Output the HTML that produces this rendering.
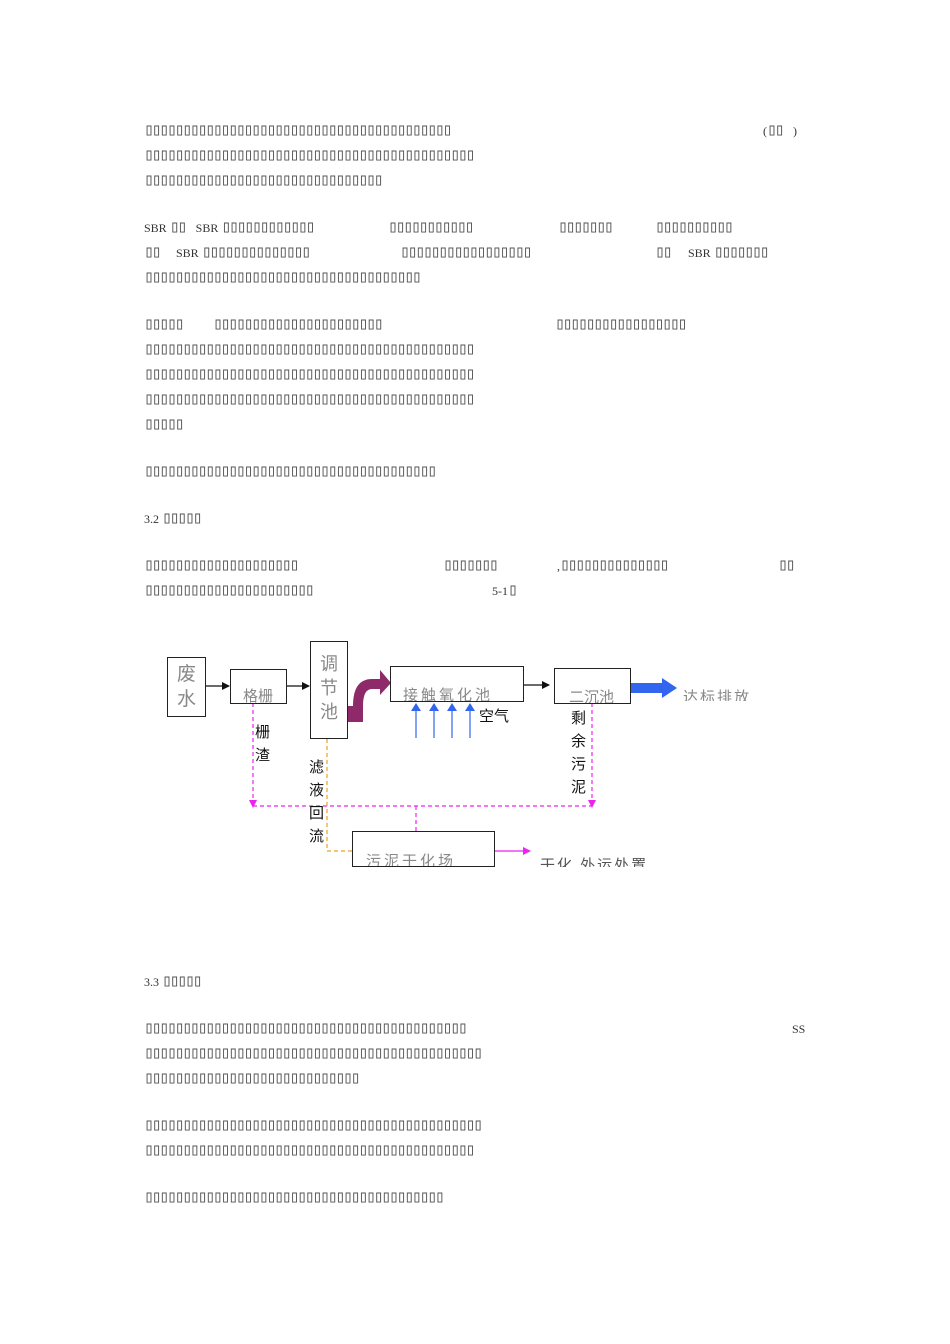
<!DOCTYPE html>
<html><head><meta charset="utf-8"><style>
body{margin:0;width:950px;height:1344px;background:#fff;position:relative;overflow:hidden}
.t{position:absolute;font-family:"DejaVu Sans Mono",monospace;font-size:17px;letter-spacing:-2.58px;color:#555;white-space:pre;line-height:17px}
.t i{font-style:normal;font-family:"Liberation Sans Narrow","Liberation Serif",serif;font-size:12px;letter-spacing:0;color:#333}
.b{position:absolute;border:1px solid #222;background:#fff;overflow:hidden;box-sizing:border-box}
.g{font-family:"Liberation Sans","Noto Sans CJK SC",sans-serif;color:#888;position:absolute;white-space:nowrap}
.k{font-family:"Liberation Sans","Noto Sans CJK SC",sans-serif;color:#111;position:absolute;font-size:15px;line-height:23px;width:16px}
</style></head><body>
<div class="t" style="left:144px;top:122px">▯▯▯▯▯▯▯▯▯▯▯▯▯▯▯▯▯▯▯▯▯▯▯▯▯▯▯▯▯▯▯▯▯▯▯▯▯▯▯▯</div>
<div class="t" style="left:763px;top:122px"><i>(</i>▯▯ <i> )</i></div>
<div class="t" style="left:144px;top:147px">▯▯▯▯▯▯▯▯▯▯▯▯▯▯▯▯▯▯▯▯▯▯▯▯▯▯▯▯▯▯▯▯▯▯▯▯▯▯▯▯▯▯▯</div>
<div class="t" style="left:144px;top:172px">▯▯▯▯▯▯▯▯▯▯▯▯▯▯▯▯▯▯▯▯▯▯▯▯▯▯▯▯▯▯▯</div>
<div class="t" style="left:144px;top:219px"><i>SBR </i>▯▯ <i> SBR </i>▯▯▯▯▯▯▯▯▯▯▯▯</div>
<div class="t" style="left:388px;top:219px">▯▯▯▯▯▯▯▯▯▯▯</div>
<div class="t" style="left:558px;top:219px">▯▯▯▯▯▯▯</div>
<div class="t" style="left:655px;top:219px">▯▯▯▯▯▯▯▯▯▯</div>
<div class="t" style="left:144px;top:244px">▯▯</div>
<div class="t" style="left:176px;top:244px"><i>SBR </i>▯▯▯▯▯▯▯▯▯▯▯▯▯▯</div>
<div class="t" style="left:400px;top:244px">▯▯▯▯▯▯▯▯▯▯▯▯▯▯▯▯▯</div>
<div class="t" style="left:655px;top:244px">▯▯</div>
<div class="t" style="left:688px;top:244px"><i>SBR </i>▯▯▯▯▯▯▯</div>
<div class="t" style="left:144px;top:269px">▯▯▯▯▯▯▯▯▯▯▯▯▯▯▯▯▯▯▯▯▯▯▯▯▯▯▯▯▯▯▯▯▯▯▯▯</div>
<div class="t" style="left:144px;top:316px">▯▯▯▯▯</div>
<div class="t" style="left:213px;top:316px">▯▯▯▯▯▯▯▯▯▯▯▯▯▯▯▯▯▯▯▯▯▯</div>
<div class="t" style="left:555px;top:316px">▯▯▯▯▯▯▯▯▯▯▯▯▯▯▯▯▯</div>
<div class="t" style="left:144px;top:341px">▯▯▯▯▯▯▯▯▯▯▯▯▯▯▯▯▯▯▯▯▯▯▯▯▯▯▯▯▯▯▯▯▯▯▯▯▯▯▯▯▯▯▯</div>
<div class="t" style="left:144px;top:366px">▯▯▯▯▯▯▯▯▯▯▯▯▯▯▯▯▯▯▯▯▯▯▯▯▯▯▯▯▯▯▯▯▯▯▯▯▯▯▯▯▯▯▯</div>
<div class="t" style="left:144px;top:391px">▯▯▯▯▯▯▯▯▯▯▯▯▯▯▯▯▯▯▯▯▯▯▯▯▯▯▯▯▯▯▯▯▯▯▯▯▯▯▯▯▯▯▯</div>
<div class="t" style="left:144px;top:416px">▯▯▯▯▯</div>
<div class="t" style="left:144px;top:463px">▯▯▯▯▯▯▯▯▯▯▯▯▯▯▯▯▯▯▯▯▯▯▯▯▯▯▯▯▯▯▯▯▯▯▯▯▯▯</div>
<div class="t" style="left:144px;top:510px"><i>3.2 </i>▯▯▯▯▯</div>
<div class="t" style="left:144px;top:557px">▯▯▯▯▯▯▯▯▯▯▯▯▯▯▯▯▯▯▯▯</div>
<div class="t" style="left:443px;top:557px">▯▯▯▯▯▯▯</div>
<div class="t" style="left:557px;top:557px"><i>,</i>▯▯▯▯▯▯▯▯▯▯▯▯▯▯</div>
<div class="t" style="left:778px;top:557px">▯▯</div>
<div class="t" style="left:144px;top:582px">▯▯▯▯▯▯▯▯▯▯▯▯▯▯▯▯▯▯▯▯▯▯</div>
<div class="t" style="left:492px;top:582px"><i>5-1</i>▯</div>
<div class="t" style="left:144px;top:973px"><i>3.3 </i>▯▯▯▯▯</div>
<div class="t" style="left:144px;top:1020px">▯▯▯▯▯▯▯▯▯▯▯▯▯▯▯▯▯▯▯▯▯▯▯▯▯▯▯▯▯▯▯▯▯▯▯▯▯▯▯▯▯▯</div>
<div class="t" style="left:792px;top:1020px"><i>SS</i></div>
<div class="t" style="left:144px;top:1045px">▯▯▯▯▯▯▯▯▯▯▯▯▯▯▯▯▯▯▯▯▯▯▯▯▯▯▯▯▯▯▯▯▯▯▯▯▯▯▯▯▯▯▯▯</div>
<div class="t" style="left:144px;top:1070px">▯▯▯▯▯▯▯▯▯▯▯▯▯▯▯▯▯▯▯▯▯▯▯▯▯▯▯▯</div>
<div class="t" style="left:144px;top:1117px">▯▯▯▯▯▯▯▯▯▯▯▯▯▯▯▯▯▯▯▯▯▯▯▯▯▯▯▯▯▯▯▯▯▯▯▯▯▯▯▯▯▯▯▯</div>
<div class="t" style="left:144px;top:1142px">▯▯▯▯▯▯▯▯▯▯▯▯▯▯▯▯▯▯▯▯▯▯▯▯▯▯▯▯▯▯▯▯▯▯▯▯▯▯▯▯▯▯▯</div>
<div class="t" style="left:144px;top:1189px">▯▯▯▯▯▯▯▯▯▯▯▯▯▯▯▯▯▯▯▯▯▯▯▯▯▯▯▯▯▯▯▯▯▯▯▯▯▯▯</div>

<svg style="position:absolute;left:0;top:0" width="950" height="1344">
<defs>
<marker id="ak" markerWidth="8" markerHeight="8" refX="7" refY="4" orient="auto" markerUnits="userSpaceOnUse"><path d="M0,0L8,4L0,8z" fill="#111"/></marker>
<marker id="ab" markerWidth="8" markerHeight="10" refX="7" refY="5" orient="auto" markerUnits="userSpaceOnUse"><path d="M0,0L8,5L0,10z" fill="#3366ee"/></marker>
<marker id="am" markerWidth="8" markerHeight="8" refX="7" refY="4" orient="auto" markerUnits="userSpaceOnUse"><path d="M0,0L8,4L0,8z" fill="#ee22ee"/></marker>
<marker id="ao" markerWidth="8" markerHeight="8" refX="7" refY="4" orient="auto" markerUnits="userSpaceOnUse"><path d="M0,0L8,4L0,8z" fill="#f0a020"/></marker>
</defs>
<g stroke="#111" stroke-width="1.2">
<line x1="205" y1="686" x2="229" y2="686" marker-end="url(#ak)"/>
<line x1="286" y1="686" x2="309" y2="686" marker-end="url(#ak)"/>
<line x1="523" y1="685" x2="549" y2="685" marker-end="url(#ak)"/>
</g>
<path d="M347,720 L353,720 Q353,693 372,693 L380,693 L380,684 L391,697 L380,709 L380,703 L372,703 Q363,703 363,720 L363,736 L347,736 Z" fill="#8e2a6a" transform="translate(0,-14)"/>
<path d="M630,683 L662,683 L662,678 L677,688 L662,698 L662,693 L630,693 Z" fill="#3366ee"/>
<g stroke="#3366ee" stroke-width="1.2">
<line x1="416" y1="738" x2="416" y2="704" marker-end="url(#ab)"/>
<line x1="434" y1="738" x2="434" y2="704" marker-end="url(#ab)"/>
<line x1="452" y1="738" x2="452" y2="704" marker-end="url(#ab)"/>
<line x1="470" y1="738" x2="470" y2="704" marker-end="url(#ab)"/>
</g>
<g stroke="#ee22ee" stroke-width="1.2" stroke-dasharray="4,3" fill="none">
<line x1="253" y1="703" x2="253" y2="807" marker-end="url(#am)"/>
<line x1="592" y1="703" x2="592" y2="807" marker-end="url(#am)"/>
<line x1="253" y1="806" x2="592" y2="806"/>
<line x1="416" y1="806" x2="416" y2="831"/>
</g>
<line x1="494" y1="851" x2="530" y2="851" stroke="#ee22ee" stroke-width="1.2" marker-end="url(#am)"/>
<g stroke="#f0a020" stroke-width="1.2" stroke-dasharray="4,3" fill="none">
<polyline points="352,851 327,851 327,738"/>
<line x1="327" y1="740" x2="327" y2="726" stroke-dasharray="none" marker-end="url(#ao)"/>
</g>
</svg>

<div class="b" style="left:167px;top:657px;width:39px;height:60px"><div class="g" style="left:9px;top:4px;font-size:19px;line-height:25px;width:20px;white-space:normal">废水</div></div>
<div class="b" style="left:230px;top:669px;width:57px;height:35px"><div class="g" style="left:12px;top:15px;font-size:15px">格栅</div></div>
<div class="b" style="left:310px;top:641px;width:38px;height:98px"><div class="g" style="left:9px;top:10px;font-size:18px;line-height:24px;width:20px;white-space:normal">调节池</div></div>
<div class="b" style="left:390px;top:666px;width:134px;height:36px"><div class="g" style="left:12px;top:17px;font-size:15px;letter-spacing:3px">接触氧化池</div></div>
<div class="b" style="left:554px;top:668px;width:77px;height:36px"><div class="g" style="left:14px;top:17px;font-size:15px">二沉池</div></div>
<div class="b" style="left:352px;top:831px;width:143px;height:36px"><div class="g" style="left:13px;top:18px;font-size:15px;letter-spacing:3px">污泥干化场</div></div>
<div style="position:absolute;left:683px;top:680px;height:21px;overflow:hidden;width:100px"><div class="g" style="left:0;top:6px;font-size:15px;letter-spacing:2px">达标排放</div></div>
<div style="position:absolute;left:540px;top:845px;height:22px;overflow:hidden;width:140px"><div class="g" style="left:0;top:9px;font-size:15px;letter-spacing:2px;color:#555">干化 外运处置</div></div>
<div class="k" style="left:479px;top:705px;width:40px">空气</div>
<div class="k" style="left:255px;top:721px">栅渣</div>
<div class="k" style="left:309px;top:756px">滤液回流</div>
<div class="k" style="left:571px;top:707px">剩余污泥</div>
</body></html>
